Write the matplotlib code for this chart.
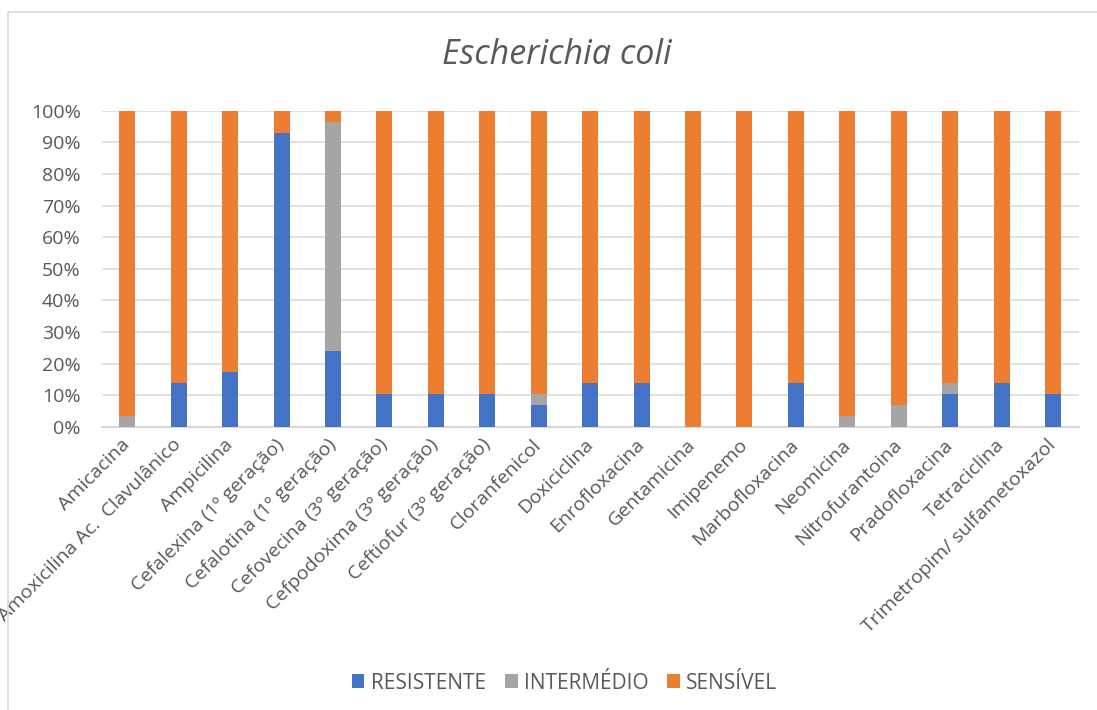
import matplotlib
matplotlib.use("Agg")
import matplotlib.pyplot as plt
from matplotlib.patches import Rectangle, Patch
import numpy as np

plt.rcParams["font.family"] = ["Open Sans", "DejaVu Sans"]

categories = [
    "Amicacina", "Amoxicilina Ac.  Clavulânico", "Ampicilina",
    "Cefalexina (1º geração)", "Cefalotina (1º geração)",
    "Cefovecina (3º geração)", "Cefpodoxima (3º geração)",
    "Ceftiofur (3º geração)", "Cloranfenicol", "Doxiciclina",
    "Enrofloxacina", "Gentamicina", "Imipenemo", "Marbofloxacina",
    "Neomicina", "Nitrofurantoina", "Pradofloxacina", "Tetraciclina",
    "Trimetropim/ sulfametoxazol",
]
resistente = [0.0, 13.8, 17.2, 93.1, 24.1, 10.3, 10.3, 10.3, 6.9, 13.8,
              13.8, 0.0, 0.0, 13.8, 0.0, 0.0, 10.3, 13.8, 10.3]
intermedio = [3.4, 0.0, 0.0, 0.0, 72.4, 0.0, 0.0, 0.0, 3.4, 0.0,
              0.0, 0.0, 0.0, 0.0, 3.4, 6.9, 3.4, 0.0, 0.0]
sensivel = [96.6, 86.2, 82.8, 6.9, 3.5, 89.7, 89.7, 89.7, 89.7, 86.2,
            86.2, 100.0, 100.0, 86.2, 96.6, 93.1, 86.3, 86.2, 89.7]
series_names = ["RESISTENTE", "INTERMÉDIO", "SENSÍVEL"]
colors = ["#4472C4", "#A5A5A5", "#ED7D31"]
ytick_labels = ["0%", "10%", "20%", "30%", "40%", "50%", "60%", "70%", "80%", "90%", "100%"]

text_color = "#595959"
grid_color = "#D9D9D9"

fig = plt.figure(figsize=(10.97, 7.10), dpi=100)
ax = fig.add_axes([0.0926, 0.399, 0.8907, 0.445])

x = np.arange(len(categories))
width = 0.31
bottom = np.zeros(len(categories))
for vals, name, col in zip([resistente, intermedio, sensivel], series_names, colors):
    vals = np.array(vals)
    ax.bar(x, vals, width, bottom=bottom, color=col, label=name, zorder=3)
    bottom += vals

ax.set_xlim(-0.5, len(categories) - 0.5)
ax.set_ylim(0, 100)
ax.set_yticks(np.arange(0, 101, 10))
ax.set_yticklabels(ytick_labels, fontsize=14, color=text_color)
ax.yaxis.grid(True, color=grid_color, linewidth=1.1, zorder=0)
ax.set_axisbelow(True)
ax.tick_params(axis="y", length=0, pad=15)
ax.tick_params(axis="x", length=0, pad=11)

for s in ["top", "right", "left"]:
    ax.spines[s].set_visible(False)
ax.spines["bottom"].set_color(grid_color)
ax.spines["bottom"].set_linewidth(1.5)

ax.set_xticks(x)
ax.set_xticklabels(categories, rotation=45, ha="right", va="center",
                   rotation_mode="anchor", fontsize=14, color=text_color)
for lbl in ax.get_xticklabels():
    lbl.set_clip_on(False)

fig.text(557 / 1097, 1 - 55 / 710, "Escherichia coli", fontsize=24.5,
         style="italic", color=text_color, ha="center", va="center")

handles = [Patch(facecolor=c, edgecolor="none") for c in colors]
fig.legend(handles, series_names, loc="center", bbox_to_anchor=(0.5146, 0.038),
           ncol=3, frameon=False, fontsize=15, labelcolor=text_color,
           handlelength=0.62, handleheight=0.62, handletextpad=0.3,
           columnspacing=0.9)

frame = Rectangle((8 / 1097, -0.05), 1.2, 1 - 12 / 710 + 0.05,
                  transform=fig.transFigure, fill=False,
                  edgecolor=grid_color, linewidth=1.2)
fig.add_artist(frame)

fig.savefig("out.png", dpi=100, facecolor="white")
